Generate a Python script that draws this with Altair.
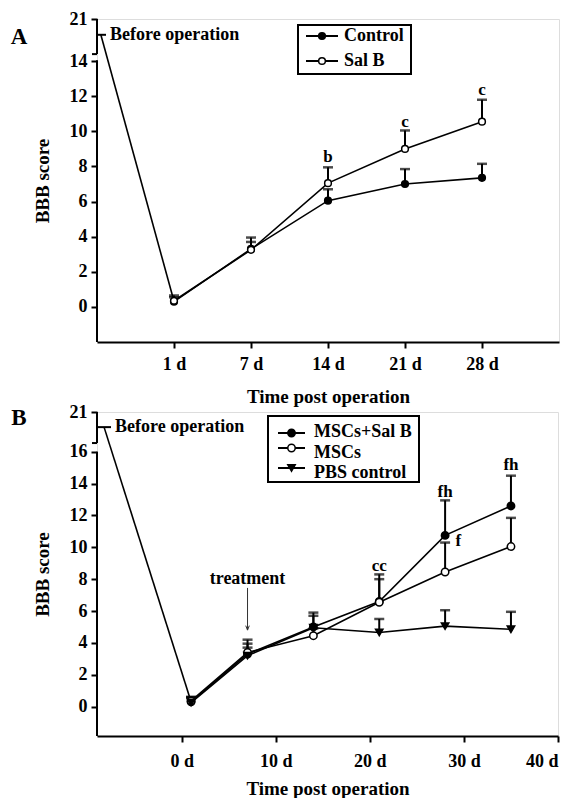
import altair as alt
import pandas as pd

FONT = "Liberation Serif"

# ---------------- Panel A data ----------------
a_day_labels = ["1 d", "7 d", "14 d", "21 d", "28 d"]
a_pos = [1, 2, 3, 4, 5]
a_series = ["Control", "Sal B"]
a_control = [0.30, 3.30, 6.05, 7.00, 7.35]
a_control_top = [0.55, 3.95, 6.70, 7.85, 8.15]
a_salb = [0.35, 3.25, 7.05, 9.00, 10.55]
a_salb_top = [0.65, 3.70, 7.95, 10.05, 11.80]
a_before_x = 0.05
a_before_y = 15.5
a_sig_labels = ["b", "c", "c"]
a_sig_pos = [3, 4, 5]
a_sig_y = [8.55, 10.55, 12.35]

# ---------------- Panel B data ----------------
b_days = [1, 7, 14, 21, 28, 35]
b_series = ["MSCs+Sal B", "MSCs", "PBS control"]
b_msc_salb = [0.30, 3.30, 5.00, 6.60, 10.75, 12.60]
b_msc_salb_top = [0.60, 4.20, 5.90, 8.30, 12.95, 14.50]
b_msc = [0.35, 3.40, 4.45, 6.55, 8.45, 10.05]
b_msc_top = [0.60, 3.95, 4.90, 8.00, 10.30, 11.85]
b_pbs = [0.25, 3.20, 4.95, 4.65, 5.05, 4.85]
b_pbs_top = [0.55, 3.70, 5.70, 5.50, 6.05, 5.95]
b_before_x = -8.25
b_before_y = 17.55
b_xticks = [0, 10, 20, 30, 40]
b_sig_labels = ["cc", "fh", "f", "fh"]
b_sig_x = [21, 28, 29.4, 35]
b_sig_y = [8.8, 13.5, 10.4, 15.2]
b_treat_x = 7
b_treat_label_y = 8.0
b_arrow_from = 7.45
b_arrow_to = 4.8

LINE_W = 1.6


def long_df(xs, series_names, means, tops):
    rows = []
    for name, m, t in zip(series_names, means, tops):
        for x, mv, tv in zip(xs, m, t):
            rows.append({"x": x, "series": name, "mean": mv, "top": tv})
    return pd.DataFrame(rows)


def text_style(size=18):
    return dict(font=FONT, fontWeight="bold", fontSize=size, color="black")


def panel(df, series_names, shapes, fills, xscale, yscale, xaxis, yaxis,
          before_x, before_y, first_x, first_y, break_lo, break_hi, ymin, ytop,
          sig_df, legend, letter, letter_pos, before_tick_len, marker_size):
    X = lambda f: alt.X(f, type="quantitative", scale=xscale, axis=None)
    Y = lambda f: alt.Y(f, type="quantitative", scale=yscale, axis=None)

    layers = []
    # base with axes (invisible points)
    base = alt.Chart(df).mark_point(opacity=0).encode(
        x=alt.X("x:Q", scale=xscale, axis=xaxis),
        y=alt.Y("mean:Q", scale=yscale, axis=yaxis),
    )
    layers.append(base)

    # manual y-axis domain with break
    dom = pd.DataFrame({"y0": [ymin, break_hi], "y1": [break_lo, ytop]})
    layers.append(alt.Chart(dom).mark_rule(color="black", strokeWidth=2).encode(
        x=alt.value(0), y=Y("y0"), y2="y1"))
    brk = pd.DataFrame({"y": [break_hi]})
    layers.append(alt.Chart(brk).mark_rule(color="black", strokeWidth=2).encode(
        x=alt.value(-5), x2=alt.value(0), y=Y("y")))

    # before operation tick + label + line to first point
    bdf = pd.DataFrame({"y": [before_y]})
    layers.append(alt.Chart(bdf).mark_rule(color="black", strokeWidth=2).encode(
        x=alt.value(0), x2=alt.value(before_tick_len), y=Y("y")))
    layers.append(alt.Chart(bdf).mark_text(align="left", baseline="middle",
                                           text="Before operation", **text_style(18)).encode(
        x=alt.value(before_tick_len + 4), y=Y("y")))
    seg = pd.DataFrame({"x": [before_x, first_x], "y": [before_y, first_y]})
    layers.append(alt.Chart(seg).mark_line(color="black", strokeWidth=LINE_W).encode(
        x=X("x"), y=Y("y")))

    # series lines
    layers.append(alt.Chart(df).mark_line(color="black", strokeWidth=LINE_W).encode(
        x=X("x"), y=Y("mean"), detail="series:N"))
    # error bars (upper only)
    layers.append(alt.Chart(df).mark_rule(color="black", strokeWidth=2).encode(
        x=X("x"), y=Y("mean"), y2="top"))
    layers.append(alt.Chart(df).mark_tick(color="black", orient="horizontal",
                                          size=10, thickness=2.5).encode(
        x=X("x"), y=Y("top")))
    # markers
    for name, shp, fill in zip(series_names, shapes, fills):
        sub = df[df["series"] == name]
        layers.append(alt.Chart(sub).mark_point(
            shape=shp, filled=True, fill=fill, stroke="black", strokeWidth=1.5,
            size=marker_size, opacity=1).encode(x=X("x"), y=Y("mean")))

    # significance letters
    layers.append(alt.Chart(sig_df).mark_text(baseline="middle", align="center",
                                              **text_style(17)).encode(
        x=X("x"), y=Y("y"), text="label:N"))

    # legend box
    bx0, bx1, by0, by1, lx0, lx1, tx, rows, text_rows = legend
    layers.append(alt.Chart(pd.DataFrame({"a": [0]})).mark_rect(
        fill="white", stroke="black", strokeWidth=2).encode(
        x=alt.value(bx0), x2=alt.value(bx1), y=alt.value(by0), y2=alt.value(by1)))
    for name, shp, fill, ry, ty in zip(series_names, shapes, fills, rows, text_rows):
        one = pd.DataFrame({"label": [name]})
        layers.append(alt.Chart(one).mark_rule(color="black", strokeWidth=2).encode(
            x=alt.value(lx0), x2=alt.value(lx1), y=alt.value(ry)))
        layers.append(alt.Chart(one).mark_point(
            shape=shp, filled=True, fill=fill, stroke="black", strokeWidth=1.5,
            size=marker_size, opacity=1).encode(
            x=alt.value((lx0 + lx1) / 2), y=alt.value(ry)))
        layers.append(alt.Chart(one).mark_text(align="left", baseline="middle",
                                               **text_style(18)).encode(
            x=alt.value(tx), y=alt.value(ty), text="label:N"))

    # panel letter
    layers.append(alt.Chart(pd.DataFrame({"label": [letter]})).mark_text(
        align="center", baseline="middle", **text_style(23)).encode(
        x=alt.value(letter_pos[0]), y=alt.value(letter_pos[1]), text="label:N"))
    return layers


axis_common = dict(
    grid=False, domainColor="black", domainWidth=2, tickColor="black", tickWidth=2,
    tickSize=6, labelFont=FONT, labelFontSize=18, labelFontWeight="bold",
    labelColor="black", titleFont=FONT, titleFontSize=19, titleFontWeight="bold",
    titleColor="black",
)

# ---------- Panel A ----------
dfA = long_df(a_pos, a_series, [a_control, a_salb], [a_control_top, a_salb_top])
xA = alt.Scale(domain=[0, 6], nice=False, zero=False)
yA = alt.Scale(domain=[-2, 16.4], nice=False, zero=False)
a_label_js = "[" + ",".join("'%s'" % s for s in ([""] + a_day_labels)) + "]"
xaxisA = alt.Axis(values=a_pos, labelExpr=a_label_js + "[datum.value]",
                  title="Time post operation", labelPadding=7, titlePadding=14,
                  **axis_common)
yaxisA = alt.Axis(values=[0, 2, 4, 6, 8, 10, 12, 14, 16.4],
                  labelExpr="datum.value > 15 ? '21' : datum.label",
                  title="BBB score", domain=False, labelPadding=4, titlePadding=17,
                  **axis_common)
sigA = pd.DataFrame({"x": a_sig_pos, "y": a_sig_y, "label": a_sig_labels})
legendA = (201, 314, 6, 55, 209, 241, 247, [17, 42], [17, 42])
layersA = panel(dfA, a_series, ["circle", "circle"], ["black", "white"], xA, yA,
                xaxisA, yaxisA, a_before_x, a_before_y, a_pos[0], 0.32,
                14.05, 14.4, -2, 16.4, sigA, legendA, "A", (-78, 18), 9, 45)
chartA = alt.layer(*layersA).resolve_axis(x="independent", y="independent").properties(
    width=462, height=323)

# ---------- Panel B ----------
dfB = long_df(b_days, b_series, [b_msc_salb, b_msc, b_pbs],
              [b_msc_salb_top, b_msc_top, b_pbs_top])
xB = alt.Scale(domain=[-9, 40], nice=False, zero=False)
yB = alt.Scale(domain=[-1.85, 18.5], nice=False, zero=False)
xaxisB = alt.Axis(values=b_xticks, labelExpr="datum.value + ' d'",
                  title="Time post operation", labelPadding=10, titlePadding=9,
                  **axis_common)
yaxisB = alt.Axis(values=[0, 2, 4, 6, 8, 10, 12, 14, 16, 18.5],
                  labelExpr="datum.value > 17 ? '21' : datum.label",
                  title="BBB score", domain=False, labelPadding=4, titlePadding=17,
                  **axis_common)
sigB = pd.DataFrame({"x": b_sig_x, "y": b_sig_y, "label": b_sig_labels})
legendB = (171, 322, 4, 70, 181, 208, 217, [21, 36, 56], [20, 41, 61])
layersB = panel(dfB, b_series, ["circle", "circle", "triangle-down"],
                ["black", "white", "black"], xB, yB, xaxisB, yaxisB,
                b_before_x, b_before_y, b_days[0], 0.3,
                16.0, 16.55, -1.85, 18.5, sigB, legendB, "B", (-78, 6), 14, 55)

treat = pd.DataFrame({"x": [b_treat_x], "y": [b_treat_label_y], "y0": [b_arrow_from],
                      "y1": [b_arrow_to], "label": ["treatment"]})
layersB.append(alt.Chart(treat).mark_text(baseline="middle", **text_style(18)).encode(
    x=alt.X("x:Q", scale=xB, axis=None), y=alt.Y("y:Q", scale=yB, axis=None),
    text="label:N"))
layersB.append(alt.Chart(treat).mark_rule(color="#333", strokeWidth=1).encode(
    x=alt.X("x:Q", scale=xB, axis=None), y=alt.Y("y0:Q", scale=yB, axis=None), y2="y1"))
layersB.append(alt.Chart(treat).mark_point(
    shape="M-0.4,-1L0,0L0.4,-1", filled=False, stroke="#333", strokeWidth=1,
    size=80, opacity=1).encode(
    x=alt.X("x:Q", scale=xB, axis=None), y=alt.Y("y1:Q", scale=yB, axis=None)))
chartB = alt.layer(*layersB).resolve_axis(x="independent", y="independent").properties(
    width=461, height=324)

chart = alt.vconcat(chartA, chartB, spacing=70, bounds="flush").properties(
    padding={"left": 2, "top": 1, "right": 0, "bottom": 0}
).configure_view(strokeWidth=0).configure(background="white")

chart.save("out.html", embed_options={"renderer": "svg", "actions": False})
